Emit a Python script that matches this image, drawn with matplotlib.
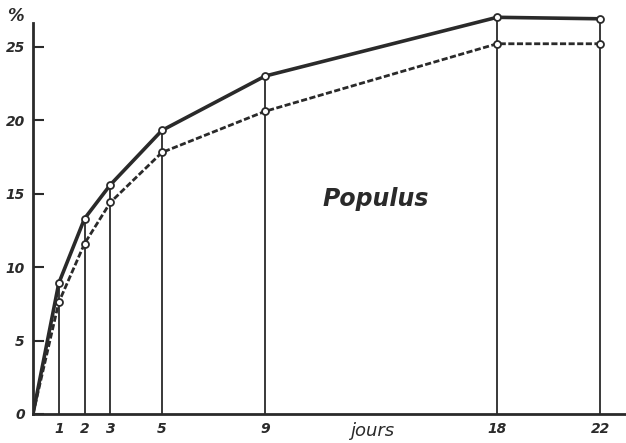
import matplotlib
matplotlib.use("Agg")
import matplotlib.pyplot as plt

# jours / pourcentage
days = [0, 1, 2, 3, 5, 9, 18, 22]
upper = [0, 8.9, 13.3, 15.6, 19.3, 23.0, 27.0, 26.9]
lower = [0, 7.6, 11.6, 14.4, 17.8, 20.6, 25.2, 25.2]
yticks = [0, 5, 10, 15, 20, 25]
xtick_days = [1, 2, 3, 5, 9, 18, 22]

fig = plt.figure(figsize=(6.26, 4.43), dpi=100)
ax = fig.add_axes([0.0527, 0.0655, 0.9473, 0.912])
ink = "#2a2a2a"

# verticales jusqu'a la courbe superieure
for d, u in zip(days[1:], upper[1:]):
    ax.plot([d, d], [0, u], color=ink, lw=1.3, zorder=1)

ax.plot(days, lower, color=ink, lw=2.0, linestyle=(0, (2.2, 0.9)), zorder=2)
ax.plot(days, upper, color=ink, lw=2.6, zorder=3)
ax.plot(days[1:], lower[1:], "o", ms=5, mfc="white", mec=ink, mew=1.3, zorder=4, clip_on=False)
ax.plot(days[1:], upper[1:], "o", ms=5, mfc="white", mec=ink, mew=1.3, zorder=4, clip_on=False)

ax.set_xlim(0, 23.0)
ax.set_ylim(0, 27.5)
for s in ["top", "right"]:
    ax.spines[s].set_visible(False)
ax.spines["left"].set_bounds(0, 26.6)
ax.spines["left"].set_linewidth(2)
ax.spines["bottom"].set_linewidth(2)
ax.spines["left"].set_color(ink)
ax.spines["bottom"].set_color(ink)

ax.set_yticks(yticks)
ax.set_yticklabels([str(v) for v in yticks], fontstyle="italic", fontweight="bold", fontsize=10, color=ink)
ax.tick_params(axis="y", direction="in", length=8, width=1.5, color=ink, pad=6)
ax.set_xticks(xtick_days)
ax.set_xticklabels([str(v) for v in xtick_days], fontstyle="italic", fontweight="bold", fontsize=10, color=ink)
ax.tick_params(axis="x", length=0, pad=6)

ax.text(13.3, 14.6, "Populus", fontsize=17, fontstyle="italic", fontweight="bold",
        color=ink, ha="center", va="center")
ax.text(13.15, -1.15, "jours", fontsize=13, fontstyle="italic", color=ink,
        ha="center", va="center", clip_on=False)
fig.text(0.025, 0.965, "%", fontsize=12, fontstyle="italic", fontweight="bold",
         color=ink, ha="center", va="center")

fig.savefig("out.png", dpi=100)
